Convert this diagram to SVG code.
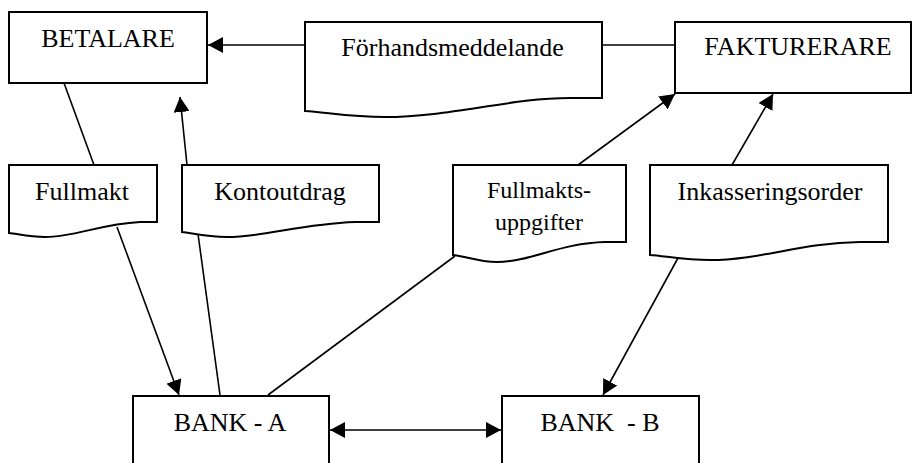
<svg xmlns="http://www.w3.org/2000/svg" width="913" height="463" viewBox="0 0 913 463">
<style>
.box{fill:#fff;stroke:#000;stroke-width:2}
.t{font-family:"Liberation Serif","Times New Roman",serif;font-size:26px;fill:#000;text-anchor:middle}
.ln{fill:none;stroke:#000;stroke-width:1.6}
</style>
<defs>
<marker id="ah" markerUnits="userSpaceOnUse" markerWidth="16" markerHeight="16" refX="15" refY="8" orient="auto-start-reverse" viewBox="0 0 16 16">
<path d="M0,0 L15,8 L0,16 z" fill="#000"/>
</marker>
</defs>
<rect width="913" height="463" fill="#fff"/>
<g id="connectors">
<line class="ln" x1="305" y1="45" x2="208" y2="45" marker-end="url(#ah)"/>
<line class="ln" x1="602" y1="45" x2="675" y2="45"/>
<line class="ln" x1="64" y1="83" x2="94" y2="165"/>
<line class="ln" x1="117" y1="227" x2="179" y2="395" marker-end="url(#ah)"/>
<line class="ln" x1="220" y1="395" x2="198" y2="234"/>
<line class="ln" x1="187" y1="165" x2="180" y2="97" marker-end="url(#ah)"/>
<line class="ln" x1="455" y1="256" x2="268" y2="395"/>
<line class="ln" x1="578" y1="165" x2="675" y2="94" marker-end="url(#ah)"/>
<line class="ln" x1="732" y1="165" x2="773" y2="94" marker-end="url(#ah)"/>
<line class="ln" x1="678" y1="258" x2="603" y2="395" marker-end="url(#ah)"/>
<line class="ln" x1="330" y1="430" x2="501" y2="430" marker-start="url(#ah)" marker-end="url(#ah)"/>
</g>
<g id="betalare">
<rect class="box" x="9" y="12" width="198" height="71"/>
<text class="t" x="108" y="47">BETALARE</text>
</g>
<g id="forhandsmeddelande">
<path class="box" d="M305,22 H602 V98 H570 C510,98 450,117 385,117 C350,117 325,112 305,111 Z"/>
<text class="t" x="452.5" y="56">Förhandsmeddelande</text>
</g>
<g id="fakturerare">
<rect class="box" x="675" y="22" width="236" height="71"/>
<text class="t" x="798" y="55">FAKTURERARE</text>
</g>
<g id="fullmakt">
<path class="box" d="M9,165 H157 V222 H140 C100,224 75,237 45,237 C30,237 18,234 9,233 Z"/>
<text class="t" x="82" y="200">Fullmakt</text>
</g>
<g id="kontoutdrag">
<path class="box" d="M182,165 H379 V222 H355 C300,224 265,237 227,237 C205,237 192,233 182,232 Z"/>
<text class="t" x="280" y="200">Kontoutdrag</text>
</g>
<g id="fullmaktsuppgifter">
<path class="box" d="M453,165 H626 V242 H605 C560,243 530,262 497,262 C478,262 465,256 453,255 Z"/>
<text class="t" style="font-size:24px" x="539" y="198">Fullmakts-</text>
<text class="t" style="font-size:24px" x="539" y="230">uppgifter</text>
</g>
<g id="inkasseringsorder">
<path class="box" d="M650,165 H888 V242 H860 C800,243 760,260 710,260 C685,260 665,256 650,255 Z"/>
<text class="t" x="770" y="200">Inkasseringsorder</text>
</g>
<g id="bank-a">
<rect class="box" x="133" y="396" width="196" height="80"/>
<text class="t" x="230" y="431">BANK - A</text>
</g>
<g id="bank-b">
<rect class="box" x="502" y="396" width="197" height="80"/>
<text class="t" x="600" y="431" xml:space="preserve">BANK  - B</text>
</g>
</svg>
